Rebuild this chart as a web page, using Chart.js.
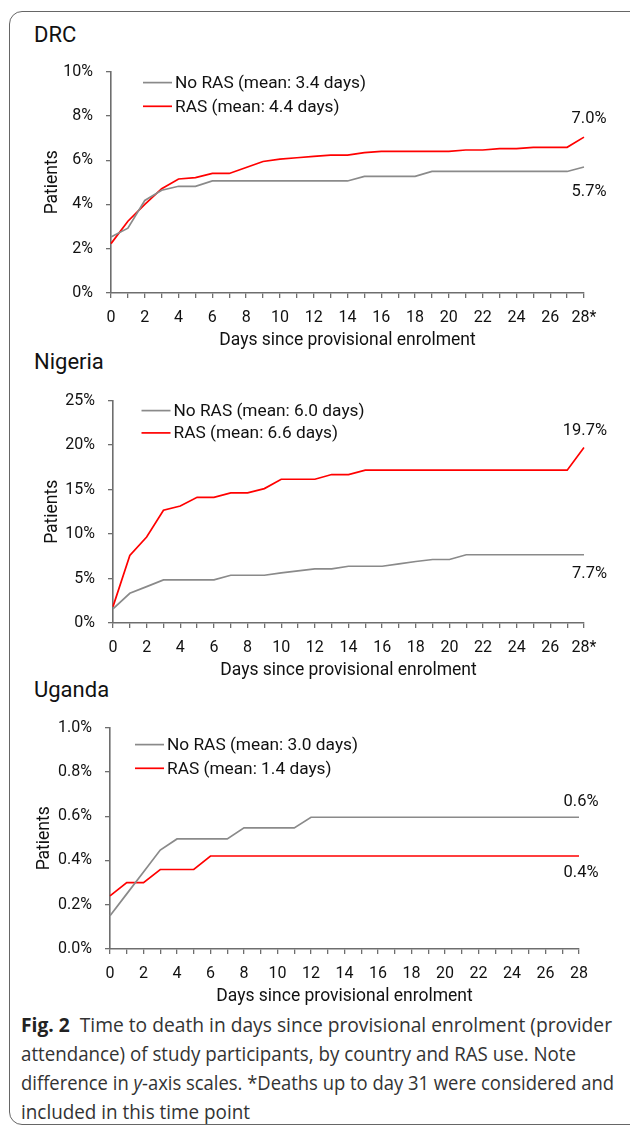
<!DOCTYPE html>
<html><head><meta charset="utf-8">
<script src="https://cdn.jsdelivr.net/npm/chart.js@4/dist/chart.umd.min.js"></script>
<style>
html,body{margin:0;padding:0;background:#fff;}
body{width:630px;height:1128px;position:relative;overflow:hidden;font-family:Roboto,sans-serif;}
.frame{position:absolute;left:9px;top:11px;width:640px;height:1114px;border:1.3px solid #666;border-radius:13px;box-sizing:border-box;}
.ptitle{position:absolute;left:34px;font-size:22px;line-height:24px;color:#111;font-weight:400;}
.panel{position:absolute;left:0;width:630px;}
.caption{position:absolute;left:21px;top:1011px;font-family:'Open Sans',sans-serif;font-size:20px;line-height:28.9px;color:#333;}
.caption div{white-space:nowrap;transform-origin:0 50%;}
.caption b{color:#222;}
</style></head>
<body>
<div class="frame"></div>
<div class="ptitle" style="top:23px">DRC</div>
<div class="ptitle" style="top:350px">Nigeria</div>
<div class="ptitle" style="top:678px">Uganda</div>
<div class="caption" id="cap">
<div data-w="591"><b>Fig. 2</b>&nbsp; Time to death in days since provisional enrolment (provider</div>
<div data-w="555">attendance) of study participants, by country and RAS use. Note</div>
<div data-w="593">difference in <i>y</i>-axis scales. *Deaths up to day 31 were considered and</div>
<div data-w="229">included in this time point</div>
</div>
<script>
// ---- data ----
const days = [0,1,2,3,4,5,6,7,8,9,10,11,12,13,14,15,16,17,18,19,20,21,22,23,24,25,26,27,28];
const xTicksStar = ['0','','2','','4','','6','','8','','10','','12','','14','','16','','18','','20','','22','','24','','26','','28*'];
const xTicksPlain = ['0','','2','','4','','6','','8','','10','','12','','14','','16','','18','','20','','22','','24','','26','','28'];

const drcNames = ['No RAS (mean: 3.4 days)', 'RAS (mean: 4.4 days)'];
const drcNoRas = [2.53,2.93,4.18,4.64,4.82,4.82,5.06,5.06,5.06,5.06,5.06,5.06,5.06,5.06,5.06,5.27,5.27,5.27,5.27,5.49,5.49,5.49,5.49,5.49,5.49,5.49,5.49,5.49,5.69];
const drcRas   = [2.23,3.24,4.00,4.71,5.15,5.21,5.40,5.40,5.67,5.94,6.05,6.11,6.17,6.23,6.23,6.34,6.40,6.40,6.40,6.40,6.40,6.46,6.46,6.52,6.52,6.58,6.58,6.58,7.04];
const drcEnd = ['5.7%', '7.0%'];
const drcYTicks = ['0%','2%','4%','6%','8%','10%'];

const ngNames = ['No RAS (mean: 6.0 days)', 'RAS (mean: 6.6 days)'];
const ngNoRas = [1.58,3.34,4.09,4.85,4.85,4.85,4.85,5.37,5.37,5.37,5.64,5.86,6.09,6.09,6.38,6.38,6.38,6.65,6.91,7.14,7.14,7.67,7.67,7.67,7.67,7.67,7.67,7.67,7.67];
const ngRas   = [1.84,7.59,9.66,12.67,13.15,14.13,14.13,14.62,14.62,15.11,16.16,16.16,16.16,16.69,16.69,17.18,17.18,17.18,17.18,17.18,17.18,17.18,17.18,17.18,17.18,17.18,17.18,17.18,19.73];
const ngEnd = ['7.7%', '19.7%'];
const ngYTicks = ['0%','5%','10%','15%','20%','25%'];

const ugNames = ['No RAS (mean: 3.0 days)', 'RAS (mean: 1.4 days)'];
const ugNoRas = [0.150,0.249,0.348,0.447,0.497,0.497,0.497,0.497,0.547,0.547,0.547,0.547,0.595,0.595,0.595,0.595,0.595,0.595,0.595,0.595,0.595,0.595,0.595,0.595,0.595,0.595,0.595,0.595,0.595];
const ugRas   = [0.240,0.300,0.300,0.359,0.359,0.359,0.420,0.420,0.420,0.420,0.420,0.420,0.420,0.420,0.420,0.420,0.420,0.420,0.420,0.420,0.420,0.420,0.420,0.420,0.420,0.420,0.420,0.420,0.420];
const ugEnd = ['0.6%', '0.4%'];
const ugYTicks = ['0.0%','0.2%','0.4%','0.6%','0.8%','1.0%'];

// ---- styling ----
const GRAY = '#8a8a8a', RED = '#ff0000', AXIS = '#6e6e6e', TXT = '#111';
const FONT = 'Roboto, sans-serif';
const BIG = 17.5;

const legendPlugin = {
  id: 'insideLegend',
  afterDraw(chart, args, o) {
    const {ctx, chartArea} = chart;
    ctx.save();
    ctx.font = '17.3px ' + FONT;
    ctx.textBaseline = 'middle';
    chart.data.datasets.forEach((ds, i) => {
      const y = chartArea.top + o.dy + i * o.gap;
      const x0 = chartArea.left + o.dx;
      ctx.strokeStyle = ds.borderColor; ctx.lineWidth = ds.borderWidth;
      ctx.beginPath(); ctx.moveTo(x0, y); ctx.lineTo(x0 + o.len, y); ctx.stroke();
      ctx.fillStyle = TXT;
      ctx.fillText(ds.label, x0 + o.len + 3, y + 1);
    });
    ctx.restore();
  }
};
const endLabelPlugin = {
  id: 'endLabels',
  afterDraw(chart, args, o) {
    const {ctx} = chart;
    ctx.save();
    ctx.font = '16.5px ' + FONT;
    ctx.textBaseline = 'middle'; ctx.textAlign = 'right';
    ctx.fillStyle = TXT;
    chart.data.datasets.forEach((ds, i) => {
      const pts = chart.getDatasetMeta(i).data;
      const p = pts[pts.length - 1];
      ctx.fillText(o.texts[i], p.x + o.dx, p.y + o.dy[i]);
    });
    ctx.restore();
  }
};

function makePanel(opt) {
  const wrap = document.createElement('div');
  wrap.className = 'panel';
  wrap.style.top = opt.top + 'px';
  wrap.style.height = opt.height + 'px';
  const c = document.createElement('canvas');
  wrap.appendChild(c); document.body.appendChild(wrap);
  const gridOpt = {display: true, drawOnChartArea: false, drawTicks: true, tickLength: 5, color: AXIS, lineWidth: 1.3};
  const borderOpt = {display: true, color: AXIS, width: 1.6};
  new Chart(c, {
    type: 'line',
    data: {
      labels: days,
      datasets: [
        {label: opt.names[0], data: opt.noRas, borderColor: GRAY, backgroundColor: GRAY, borderWidth: 1.7, pointRadius: 0, tension: 0},
        {label: opt.names[1], data: opt.ras, borderColor: RED, backgroundColor: RED, borderWidth: 1.7, pointRadius: 0, tension: 0}
      ]
    },
    options: {
      responsive: true, maintainAspectRatio: false, animation: false,
      layout: {padding: {left: 0, right: 630 - opt.right, top: 0, bottom: 0}},
      plugins: {
        legend: {display: false}, tooltip: {enabled: false},
        insideLegend: opt.legend,
        endLabels: {texts: opt.endTexts, dx: opt.endDx, dy: opt.endDy}
      },
      scales: {
        x: {
          type: 'category', offset: false,
          grid: gridOpt, border: borderOpt,
          ticks: {autoSkip: false, maxRotation: 0, minRotation: 0, padding: 10, color: TXT, font: {family: FONT, size: 16},
                  callback: (v, i) => opt.xTicks[i]},
          title: {display: true, text: 'Days since provisional enrolment', color: TXT, font: {family: FONT, size: BIG}, padding: {top: 0, bottom: 0}},
          afterFit: s => { s.height = 58; }
        },
        y: {
          min: 0, max: opt.max,
          grid: gridOpt, border: borderOpt,
          ticks: {stepSize: opt.step, padding: 13, color: TXT, font: {family: FONT, size: 16},
                  callback: (v, i) => opt.yTicks[i]},
          title: {display: true, text: 'Patients', color: TXT, font: {family: FONT, size: BIG}, padding: {top: opt.titlePad, bottom: 0}},
          afterFit: s => { s.width = opt.left; }
        }
      }
    },
    plugins: [legendPlugin, endLabelPlugin]
  });
}

makePanel({top: 49, height: 302, left: 111, right: 584, max: 10, step: 2, yTicks: drcYTicks, xTicks: xTicksStar, titlePad: 42.5,
  names: drcNames, noRas: drcNoRas, ras: drcRas, endTexts: drcEnd, endDx: 22.5, endDy: [25, -18],
  legend: {dx: 32, dy: 11, gap: 23.7, len: 29}});
makePanel({top: 378, height: 303, left: 113, right: 584, max: 25, step: 5, yTicks: ngYTicks, xTicks: xTicksStar, titlePad: 42.5,
  names: ngNames, noRas: ngNoRas, ras: ngRas, endTexts: ngEnd, endDx: 23, endDy: [19, -16.5],
  legend: {dx: 28.5, dy: 10, gap: 22.3, len: 29}});
makePanel({top: 705, height: 302, left: 110, right: 579, max: 1.0, step: 0.2, yTicks: ugYTicks, xTicks: xTicksPlain, titlePad: 34,
  names: ugNames, noRas: ugNoRas, ras: ugRas, endTexts: ugEnd, endDx: 19.5, endDy: [-15, 16.5],
  legend: {dx: 25, dy: 17, gap: 23.7, len: 29}});

// fit caption lines to reference widths
document.querySelectorAll('#cap div').forEach(d => {
  d.style.display = 'inline-block';
  const w = d.getBoundingClientRect().width;
  d.style.display = 'block';
  const target = +d.dataset.w;
  d.style.transform = 'scaleX(' + (target / w).toFixed(4) + ')';
});
</script>
</body></html>
